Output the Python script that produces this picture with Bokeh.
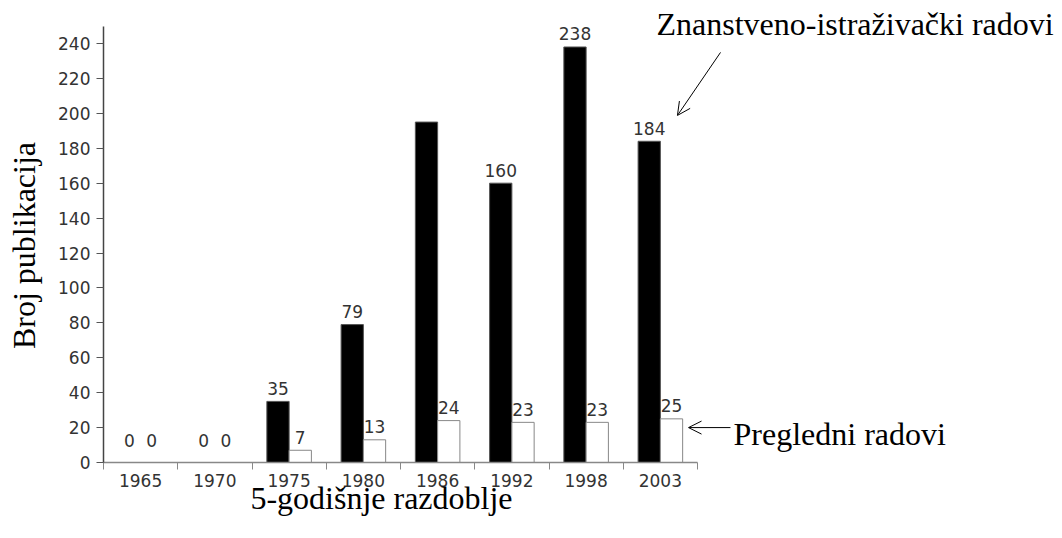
import numpy as np
from bokeh.plotting import figure
from bokeh.models import Range1d, FixedTicker, Label, Arrow, OpenHead, ColumnDataSource
from bokeh.core.properties import value
from bokeh.embed import file_html
from bokeh.resources import INLINE

# ---- data ----
periods = ["1965", "1970", "1975", "1980", "1986", "1992", "1998", "2003"]
research = [0, 0, 35, 79, 195, 160, 238, 184]      # Znanstveno-istraživački radovi
review = [0, 0, 7, 13, 24, 23, 23, 25]             # Pregledni radovi
research_labels = ["0", "0", "35", "79", "", "160", "238", "184"]
review_labels = ["0", "0", "7", "13", "24", "23", "23", "25"]
y_ticks = [0, 20, 40, 60, 80, 100, 120, 140, 160, 180, 200, 220, 240]

# ---- layout (frame covers the whole canvas, axes fixed at the origin) ----
W, H = 1062, 538
X0, Y0 = 103, 462       # pixel position of the origin
CAT_PX = 74.25          # pixels per period
Y_PX = 1.7458           # pixels per publication

p = figure(width=W, height=H,
           x_range=Range1d(-X0 / CAT_PX, (W - X0) / CAT_PX),
           y_range=Range1d(-(H - Y0) / Y_PX, Y0 / Y_PX),
           output_backend="svg", toolbar_location=None,
           min_border=0)
p.outline_line_color = None
p.grid.visible = False
p.background_fill_color = "white"

n = len(periods)
centers = np.arange(n) + 0.5
bw = 0.3

src = ColumnDataSource(dict(
    xr=centers - bw / 2, xv=centers + bw / 2,
    research=research, review=review,
    rl=research_labels, vl=review_labels,
    roff=[-13 if v > 0 else -22 for v in research],
    voff=[-13 if v > 0 else -22 for v in review],
))

p.vbar(x="xr", top="research", width=bw, source=src,
       fill_color="black", line_color="#555555", line_width=1)
p.vbar(x="xv", top="review", width=bw, source=src,
       fill_color="white", line_color="#888888", line_width=1)

lab_kw = dict(text_font=value("DejaVu Sans"), text_font_size="17px",
              text_color="#333333", text_align="center",
              text_baseline="alphabetic")
p.text(x="xr", y="research", text="rl", y_offset="roff", source=src, **lab_kw)
p.text(x="xv", y="review", text="vl", y_offset="voff", source=src, **lab_kw)

# ---- x axis ----
xa = p.xaxis[0]
xa.fixed_location = 0
xa.ticker = FixedTicker(ticks=list(centers), minor_ticks=list(range(n + 1)))
xa.major_label_overrides = {float(c): lab for c, lab in zip(centers, periods)}
xa.bounds = (0, n)
xa.major_tick_out = 0
xa.major_tick_in = 0
xa.minor_tick_in = 0
xa.minor_tick_out = 7
xa.minor_tick_line_color = "#888888"
xa.axis_line_color = "#888888"
xa.axis_line_width = 1.5
xa.major_label_standoff = 4
xa.major_label_text_font = "DejaVu Sans"
xa.major_label_text_font_size = "17px"
xa.major_label_text_color = "#333333"

# ---- y axis ----
ya = p.yaxis[0]
ya.fixed_location = 0
ya.ticker = FixedTicker(ticks=y_ticks, minor_ticks=[])
ya.bounds = (0, 250)
ya.major_tick_out = 7
ya.major_tick_in = 0
ya.major_tick_line_color = "#555555"
ya.axis_line_color = "#444444"
ya.axis_line_width = 1.5
ya.major_label_standoff = 6
ya.major_label_text_font = "DejaVu Sans"
ya.major_label_text_font_size = "17px"
ya.major_label_text_color = "#333333"

# ---- titles and annotations ----
serif = dict(text_font="Liberation Serif", text_font_size="32px", text_color="black",
             text_baseline="alphabetic")
p.add_layout(Label(x=-1.064, y=124.3, text="Broj publikacija", angle=np.pi / 2,
                   text_align="center", **serif))
p.add_layout(Label(x=3.744, y=-20.2, text="5-godišnje razdoblje",
                   text_align="center", **serif))
p.add_layout(Label(x=7.448, y=251.4, text="Znanstveno-istraživački radovi",
                   text_align="left", **serif))
p.add_layout(Label(x=8.485, y=16.6, text="Pregledni radovi",
                   text_align="left", **serif))

p.add_layout(Arrow(end=OpenHead(size=13, line_width=1, line_color="black"),
                   x_start=8.31, y_start=234.9, x_end=7.73, y_end=198.8,
                   line_width=1, line_color="black"))
p.add_layout(Arrow(end=OpenHead(size=13, line_width=1, line_color="black"),
                   x_start=8.444, y_start=20.0, x_end=7.879, y_end=20.0,
                   line_width=1, line_color="black"))

open("out.html", "w").write(file_html(p, INLINE))
